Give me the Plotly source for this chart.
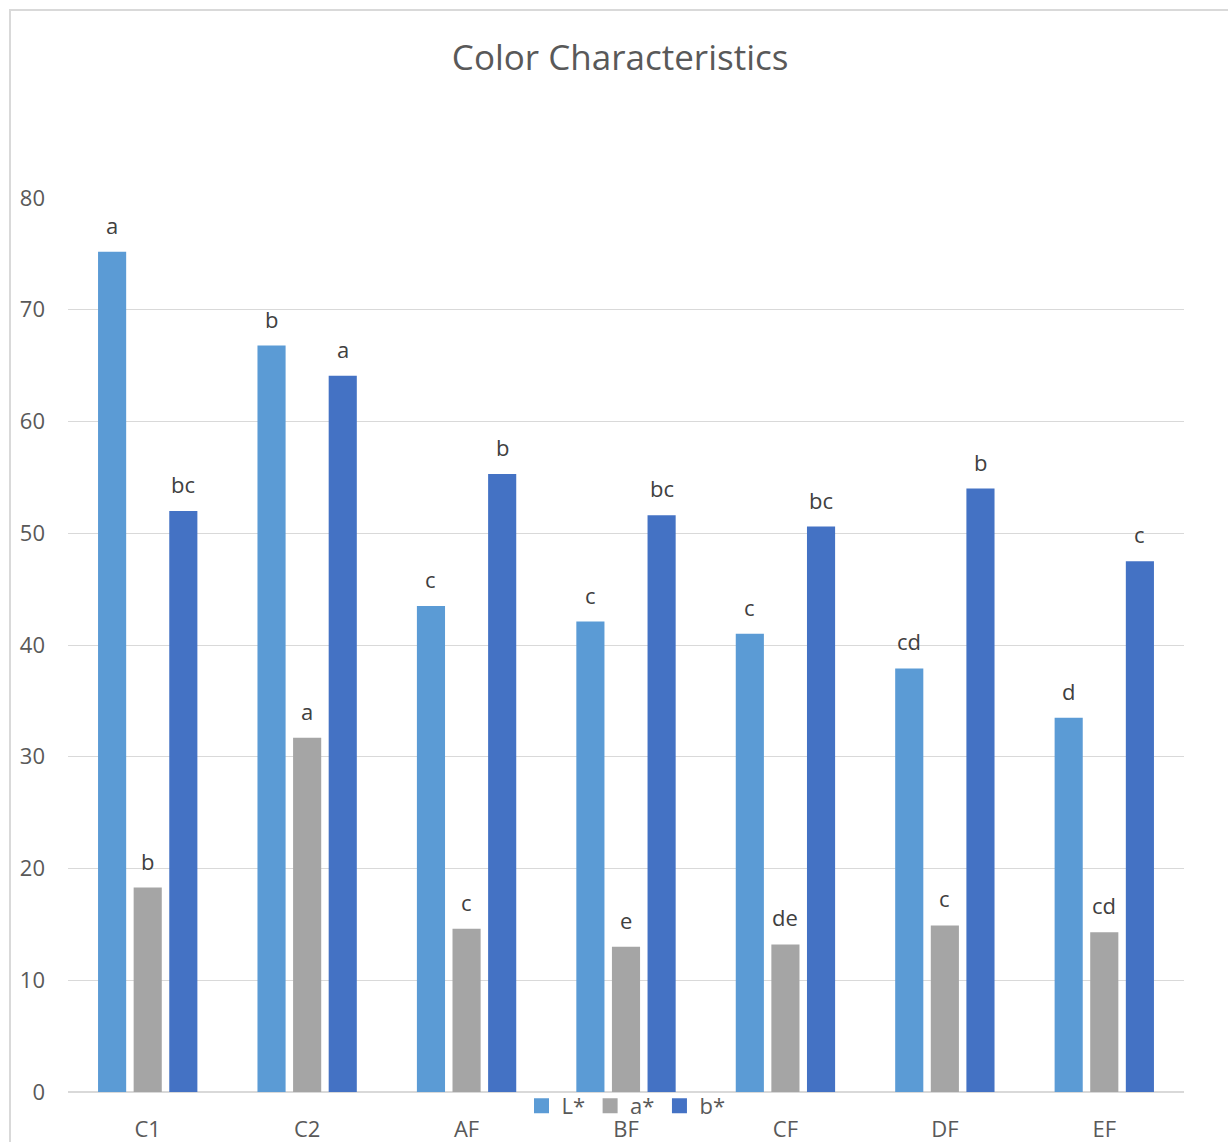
import plotly.graph_objects as go

# Samples and colour coordinates (CIE L*a*b*)
categories = ["C1", "C2", "AF", "BF", "CF", "DF", "EF"]
L_values = [75.2, 66.8, 43.5, 42.1, 41.0, 37.9, 33.5]
a_values = [18.3, 31.7, 14.6, 13.0, 13.2, 14.9, 14.3]
b_values = [52.0, 64.1, 55.3, 51.6, 50.6, 54.0, 47.5]

# Significance letters for each series
L_letters = ["a", "b", "c", "c", "c", "cd", "d"]
a_letters = ["b", "a", "c", "e", "de", "c", "cd"]
b_letters = ["bc", "a", "b", "bc", "bc", "b", "c"]

series = [
    ("L*", L_values, L_letters, "#5B9BD5"),
    ("a*", a_values, a_letters, "#A5A5A5"),
    ("b*", b_values, b_letters, "#4472C4"),
]

font_family = "Open Sans, Liberation Sans, Arial, sans-serif"
text_color = "#595959"

W, H = 1228, 1142
ML, MR, MT, MB = 68, 44, 198, 50
plot_w = W - ML - MR
plot_h = H - MT - MB

fig = go.Figure()
for name, vals, letters, color in series:
    fig.add_trace(go.Bar(
        name=name, x=categories, y=vals, showlegend=False,
        marker=dict(color=color, line=dict(width=0)),
    ))

# Legend entries drawn as plain square swatches
for name, vals, letters, color in series:
    fig.add_trace(go.Scatter(
        name=name, x=[None], y=[None], mode="markers",
        marker=dict(symbol="square", size=15, color=color),
        showlegend=True, hoverinfo="skip",
    ))

# Letters above each bar, offset to the bar's slot within its group
slot = plot_w / len(categories) * (1 - 0.33) / 3
for i, (name, vals, letters, color) in enumerate(series):
    for cat, v, lt in zip(categories, vals, letters):
        fig.add_annotation(x=cat, y=v, text=lt, showarrow=False,
                           xshift=(i - 1) * slot, yshift=27,
                           yanchor="middle",
                           font=dict(size=22, color="#404040",
                                     family=font_family))

fig.update_layout(
    width=W, height=H,
    margin=dict(l=ML, r=MR, t=MT, b=MB, autoexpand=False),
    paper_bgcolor="white", plot_bgcolor="white",
    barmode="group", bargap=0.33, bargroupgap=0.21,
    font=dict(family=font_family, color=text_color, size=22),
    title=dict(text="Color Characteristics", x=0.505, xanchor="center",
               y=1 - 58 / H, yanchor="middle",
               font=dict(size=35, color=text_color, family=font_family)),
    legend=dict(orientation="h", x=0.5, xanchor="center",
                y=-14 / plot_h, yanchor="middle",
                font=dict(size=22, color=text_color),
                bgcolor="rgba(0,0,0,0)", itemwidth=30,
                tracegroupgap=0, traceorder="normal"),
    showlegend=True,
)

fig.update_yaxes(range=[0, 80], dtick=10, showgrid=True,
                 gridcolor="#D9D9D9", gridwidth=1.3,
                 zeroline=True, zerolinecolor="#D9D9D9", zerolinewidth=1.8,
                 showline=False, ticks="", ticklabelstandoff=22,
                 automargin=False,
                 tickfont=dict(size=22, color=text_color))
fig.update_xaxes(showgrid=False, showline=False, ticks="",
                 ticklabelstandoff=22, automargin=False,
                 tickfont=dict(size=22, color=text_color))

# Light chart border
fig.add_shape(type="rect", xref="paper", yref="paper",
              x0=(10 - ML) / plot_w, x1=1.2, y0=-0.2, y1=1 + (MT - 10) / plot_h,
              line=dict(color="#D9D9D9", width=2), fillcolor="rgba(0,0,0,0)",
              layer="below")

fig.write_html("out.html")
